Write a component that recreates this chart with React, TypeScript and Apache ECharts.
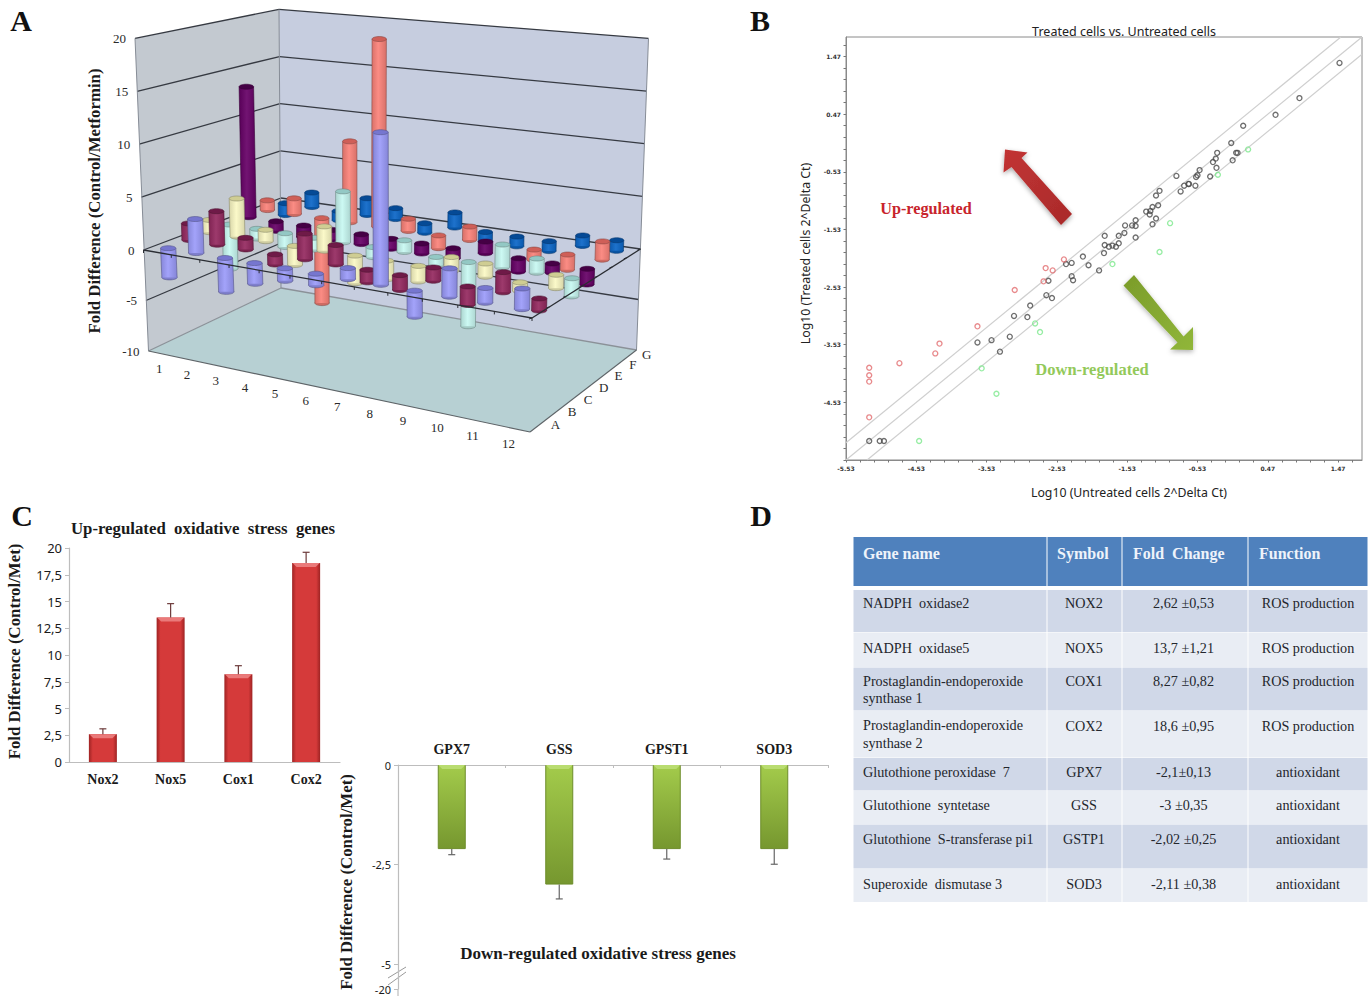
import React, { useEffect, useRef } from "react";
import * as echarts from "echarts";

// ---------- Panel A data (fold difference, rows A..G, columns 1..12)
const rowA = [-2.9, 3.2, -3.3, -2.0, -1.2, -1.1, 1.0, 13.7, -2.4, 2.5, 1.3, 1.8];
const rowB = [1.6, 3.2, 1.1, -1.0, 2.4, 1.8, -1.2, -1.4, 1.2, -1.7, 1.8, -1.1];
const rowC = [1.2, 3.7, 1.1, -1.9, 2.3, -2.7, -1.8, -1.5, 1.3, 1.2, -0.8, 1.2];
const rowD = [-4.6, -1.0, -1.4, -1.2, 4.9, -1.0, 1.1, -0.8, -6.2, 2.1, 1.3, -1.7];
const rowE = [13.2, -1.0, -1.2, -1.0, -1.0, -1.0, -1.0, -1.0, 1.1, -1.3, -0.9, -1.5];
const rowF = [1.0, 1.6, -9.0, 8.1, 18.6, 1.2, -1.3, 1.3, null, -1.0, -1.5, 1.7];
const rowG = [-1.3, 1.5, -1.0, 1.7, 1.1, -1.0, 1.5, -1.0, -1.0, -1.0, 1.0, 1.0];
const rowLetters = ["A", "B", "C", "D", "E", "F", "G"];
const colLabels = ["1", "2", "3", "4", "5", "6", "7", "8", "9", "10", "11", "12"];
const wallTicks = [20, 15, 10, 5, 0, -5, -10];
const rowBody = ["#9b9bfa", "#94295f", "#fbf9c4", "#c8f8f2", "#660066", "#fb8279", "#0a66c8"];
const rowEdge = ["#7676cf", "#6f1a48", "#cfcd93", "#93c8c4", "#450045", "#cf5f58", "#054a96"];

// ---------- Panel B data [untreated, treated]
const redPoints = [[-5.2, -3.93], [-5.2, -4.06], [-5.2, -4.17], [-5.2, -4.79], [-4.77, -3.85], [-4.26, -3.68], [-4.2, -3.51], [-3.66, -3.21], [-3.13, -2.58], [-2.72, -2.43], [-2.69, -2.2], [-2.59, -2.24], [-2.43, -2.05]];
const greenPoints = [[-4.49, -5.2], [-3.39, -4.38], [-3.6, -3.94], [-2.77, -3.31], [-2.84, -3.16], [-1.74, -2.13], [-1.07, -1.92], [-0.92, -1.42], [-0.24, -0.58], [0.19, -0.14]];
const blackPoints = [[-5.2, -5.2], [-5.05, -5.2], [-4.99, -5.2], [-3.66, -3.49], [-3.46, -3.45], [-3.2, -3.39], [-3.34, -3.65], [-3.14, -3.03], [-2.95, -3.05], [-2.91, -2.85], [-2.68, -2.67], [-2.6, -2.72], [-2.65, -2.42], [-2.32, -2.34], [-2.3, -2.41], [-2.4, -2.13], [-2.32, -2.11], [-2.16, -2.0], [-2.08, -2.15], [-1.93, -2.24], [-1.86, -1.94], [-1.85, -1.8], [-1.85, -1.64], [-1.79, -1.83], [-1.74, -1.81], [-1.69, -1.83], [-1.65, -1.77], [-1.65, -1.64], [-1.57, -1.59], [-1.56, -1.46], [-1.46, -1.46], [-1.41, -1.37], [-1.41, -1.47], [-1.41, -1.67], [-1.26, -1.22], [-1.21, -1.27], [-1.2, -1.21], [-1.17, -1.14], [-1.17, -1.44], [-1.12, -1.34], [-1.09, -1.11], [-1.12, -0.94], [-1.07, -0.86], [-0.83, -0.6], [-0.77, -0.87], [-0.72, -0.77], [-0.66, -0.74], [-0.65, -0.74], [-0.56, -0.77], [-0.55, -0.62], [-0.53, -0.59], [-0.5, -0.5], [-0.35, -0.61], [-0.31, -0.36], [-0.27, -0.3], [-0.26, -0.46], [-0.25, -0.2], [-0.05, -0.03], [-0.03, -0.33], [0.02, -0.2], [0.04, -0.2], [0.12, 0.27], [0.58, 0.46], [0.92, 0.75], [1.49, 1.36]];
const centreLine = [[-5.53, -5.53], [1.81, 1.81]];
const upperLine = [[-5.53, -5.23], [1.51, 1.81]];
const lowerLine = [[-5.23, -5.53], [1.81, 1.51]];
const logLabelsX = [-5.53, -4.53, -3.53, -2.53, -1.53, -0.53, 0.47, 1.47];
const logLabelsY = [-4.53, -3.53, -2.53, -1.53, -0.53, 0.47, 1.47];
const logTicks = Array.from({ length: 37 }, (_, i) => +(-5.53 + i * 0.2).toFixed(2));

// ---------- Panel C data
const upGenes = ["Nox2", "Nox5", "Cox1", "Cox2"];
const upValues = [2.6, 13.5, 8.2, 18.6];
const upErrorTops = [3.1, 14.8, 9.0, 19.6];
const downGenes = ["GPX7", "GSS", "GPST1", "SOD3"];
const downValues = [-2.11, -3.0, -2.11, -2.11];
const downErrorEnds = [-2.25, -3.36, -2.36, -2.49];
const downTicks = [0, -2.5, -5, -5.62];

// ---------- Panel D data
const tableHeader = ["Gene name", "Symbol", "Fold  Change", "Function"];
const geneNames = ["NADPH  oxidase2", "NADPH  oxidase5", "Prostaglandin-endoperoxide\nsynthase 1", "Prostaglandin-endoperoxide\nsynthase 2", "Glutothione peroxidase  7", "Glutothione  syntetase", "Glutothione  S-transferase pi1", "Superoxide  dismutase 3"];
const symbols = ["NOX2", "NOX5", "COX1", "COX2", "GPX7", "GSS", "GSTP1", "SOD3"];
const foldChanges = ["2,62 ±0,53", "13,7 ±1,21", "8,27 ±0,82", "18,6 ±0,95", "-2,1±0,13", "-3 ±0,35", "-2,02 ±0,25", "-2,11 ±0,38"];
const functions = ["ROS production", "ROS production", "ROS production", "ROS production", "antioxidant", "antioxidant", "antioxidant", "antioxidant"];

// ---------- layout of the 3D box of panel A
type P = [number, number];
const zeroQuad: P[] = [[143.5, 250], [532, 318], [640.5, 249], [281, 198]];
const floorQuad: P[] = [[148.5, 351], [530, 432], [636.5, 350], [281, 288]];
// pixels per unit above the zero plane at the four vertical edges (order as in the quads)
const riseY = [10.58, 11.6, 10.53, 9.43];
const riseX = [-0.425, 0.2, 0.4, -0.1];

function homography(q: P[], u: number, v: number): P {
  const [[x0, y0], [x1, y1], [x2, y2], [x3, y3]] = q;
  const dx1 = x1 - x2, dx2 = x3 - x2, sx = x0 - x1 + x2 - x3;
  const dy1 = y1 - y2, dy2 = y3 - y2, sy = y0 - y1 + y2 - y3;
  const den = dx1 * dy2 - dx2 * dy1;
  const g = (sx * dy2 - dx2 * sy) / den;
  const h = (dx1 * sy - sx * dy1) / den;
  const a = x1 - x0 + g * x1, b = x3 - x0 + h * x3;
  const d = y1 - y0 + g * y1, e = y3 - y0 + h * y3;
  const w = g * u + h * v + 1;
  return [(a * u + b * v + x0) / w, (d * u + e * v + y0) / w];
}
const bilinear = (c: number[], u: number, v: number) =>
  (1 - v) * ((1 - u) * c[0] + u * c[1]) + v * ((1 - u) * c[3] + u * c[2]);
function box(u: number, v: number, val: number): P {
  const z = homography(zeroQuad, u, v);
  if (val >= 0) return [z[0] + bilinear(riseX, u, v) * val, z[1] - bilinear(riseY, u, v) * val];
  const f = homography(floorQuad, u, v);
  const t = val / -10;
  return [z[0] + (f[0] - z[0]) * t, z[1] + (f[1] - z[1]) * t];
}
const SERIF = "'Liberation Serif', serif";
const line = (a: P, b: P, stroke: string, lineWidth = 1) => ({
  type: "line",
  shape: { x1: a[0], y1: a[1], x2: b[0], y2: b[1] },
  style: { stroke, lineWidth },
});
const hGrad = (edge: string, mid: string) =>
  new echarts.graphic.LinearGradient(0, 0, 1, 0, [
    { offset: 0, color: edge },
    { offset: 0.45, color: mid },
    { offset: 1, color: edge },
  ]);
function shade(hex: string, f: number) {
  const n = parseInt(hex.slice(1), 16);
  const c = [(n >> 16) & 255, (n >> 8) & 255, n & 255].map((x) => Math.round(f < 1 ? x * f : x + (255 - x) * (f - 1)));
  return `rgb(${c[0]},${c[1]},${c[2]})`;
}

function renderWalls() {
  const c = (u: number, v: number, val: number) => box(u, v, val);
  const poly = (pts: P[], fill: string) => ({ type: "polygon", shape: { points: pts }, style: { fill } });
  const children: any[] = [
    poly([c(0, 0, 20), c(0, 1, 20), c(0, 1, -10), c(0, 0, -10)], "#c3c9d0"),
    poly([c(0, 1, 20), c(1, 1, 20), c(1, 1, -10), c(0, 1, -10)], "#c6cddf"),
    poly([c(0, 0, -10), c(1, 0, -10), c(1, 1, -10), c(0, 1, -10)], "#b7d0d3"),
  ];
  wallTicks.forEach((t) => {
    const col = t === -10 ? "#8b9198" : "#363a42";
    children.push(line(c(0, 0, t), c(0, 1, t), col, 1.3));
    children.push(line(c(0, 1, t), c(1, 1, t), col, 1.3));
  });
  children.push(line(c(0, 0, 20), c(0, 0, -10), "#868c96"));
  children.push(line(c(0, 1, 20), c(0, 1, -10), "#868c96"));
  children.push(line(c(1, 1, 20), c(1, 1, -10), "#868c96"));
  children.push(line(c(0, 0, -10), c(1, 0, -10), "#5e6468", 1.1));
  children.push(line(c(1, 0, -10), c(1, 1, -10), "#5e6468", 1.1));
  return { type: "group", children };
}

function renderPlane() {
  const children: any[] = [
    line(box(0, 0, 0), box(1, 0, 0), "#2a2d33", 1.3),
    line(box(1, 0, 0), box(1, 1, 0), "#2a2d33", 1.3),
  ];
  for (let i = 0; i <= 12; i++) {
    const p = box(i / 12, 0, 0);
    children.push(line(p, [p[0], p[1] + 3], "#2a2d33", 1));
  }
  for (let i = 0; i <= 7; i++) {
    const p = box(1, i / 7, 0);
    children.push(line(p, [p[0] - 3, p[1] + 1], "#2a2d33", 1));
  }
  return { type: "group", children };
}

function renderCylinder(_: any, api: any) {
  const col = api.value(0), row = api.value(1), val = api.value(2);
  const u = (col - 0.5) / 12, v = (row + 0.5) / 7;
  const a = box(u, v, 0), b = box(u, v, val);
  const top = a[1] < b[1] ? a : b, bot = a[1] < b[1] ? b : a;
  const rx = 7.7 - v * 0.7, ry = 2.5;
  const body = rowBody[row], edge = rowEdge[row];
  const outline = { stroke: shade(body, 0.55), lineWidth: 0.6 };
  return {
    type: "group",
    children: [
      { type: "ellipse", shape: { cx: bot[0], cy: bot[1], rx, ry }, style: { fill: shade(body, 0.82), ...outline } },
      {
        type: "polygon",
        shape: { points: [[top[0] - rx, top[1]], [top[0] + rx, top[1]], [bot[0] + rx, bot[1]], [bot[0] - rx, bot[1]]] },
        style: { fill: hGrad(shade(body, 0.86), shade(body, 1.08)) },
      },
      { type: "line", shape: { x1: top[0] - rx, y1: top[1], x2: bot[0] - rx, y2: bot[1] }, style: outline },
      { type: "line", shape: { x1: top[0] + rx, y1: top[1], x2: bot[0] + rx, y2: bot[1] }, style: outline },
      { type: "ellipse", shape: { cx: top[0], cy: top[1], rx, ry }, style: { fill: edge, ...outline } },
    ],
  };
}

function renderBoxLabels() {
  const txt = (text: string, x: number, y: number, align: string) => ({
    type: "text",
    style: { text, x, y, align, verticalAlign: "middle", fontSize: 13, fontFamily: SERIF, fill: "#2a2a2a" },
  });
  const children: any[] = [];
  wallTicks.forEach((t) => {
    const p = box(0, 0, t);
    children.push(txt(String(t), p[0] - 9, p[1], "right"));
  });
  colLabels.forEach((l, i) => {
    const p = box((i + 0.5) / 12, 0, -10);
    children.push(txt(l, p[0] - 3, p[1] + 15, "center"));
  });
  rowLetters.forEach((l, i) => {
    const p = box(1, (i + 0.5) / 7, -10);
    children.push(txt(l, p[0] + 17, p[1] - 1, "center"));
  });
  children.push({
    type: "text",
    x: 94,
    y: 201,
    rotation: Math.PI / 2,
    style: { text: "Fold Difference (Control/Metformin)", align: "center", verticalAlign: "middle", fontSize: 16.8, fontWeight: "bold", fontFamily: SERIF, fill: "#1a1a1a" },
  });
  return { type: "group", children };
}

const cylinderSeries = (values: (number | null)[], row: number, z: number, keep = (_: number) => true) => ({
  type: "custom",
  coordinateSystem: "none",
  silent: true,
  z,
  data: values.map((v, i) => (v === null ? null : [i + 1, row, v])).filter((d: any) => d && keep(d[2])),
  renderItem: renderCylinder,
});

// ---------- bars' bevel and error whiskers
const barDecor = (bevel: string, whisker: string) => (_: any, api: any) => {
  const cat = api.value(0), val = api.value(1), end = api.value(2);
  const base = api.coord([cat, api.value(3)]);
  const tip = api.coord([cat, val]);
  const e = api.coord([cat, end]);
  const up = val > 0;
  const yEdge = up ? tip[1] : base[1];
  return {
    type: "group",
    children: [
      { type: "polygon", shape: { points: [[base[0] - 13.5, yEdge], [base[0] + 13.5, yEdge], [base[0] + 9.5, yEdge + 4], [base[0] - 9.5, yEdge + 4]] }, style: { fill: bevel } },
      { type: "line", shape: { x1: tip[0], y1: tip[1], x2: e[0], y2: e[1] }, style: { stroke: whisker, lineWidth: 1.2 } },
      { type: "line", shape: { x1: e[0] - 3.5, y1: e[1], x2: e[0] + 3.5, y2: e[1] }, style: { stroke: whisker, lineWidth: 1.2 } },
    ],
  };
};

// ---------- graphic elements
function tableElements() {
  const colX = [853, 1047, 1122, 1248, 1368];
  const headTop = 537, headBottom = 586;
  const rowTops = [590, 632.5, 667.5, 711, 758, 791, 824.5, 869];
  const rowBottoms = [632, 667, 710.5, 757.5, 790.5, 824, 868.5, 902];
  const rowTextY = [603, 648, 689.5, 734, 772, 805, 839, 884];
  const oneLineY = [603, 648, 681, 725.5, 772, 805, 839, 884];
  const rect = (x: number, y: number, w: number, h: number, fill: string) => ({ type: "rect", shape: { x, y, width: w, height: h }, style: { fill } });
  const text = (t: string, x: number, y: number, align: string, fill = "#23262c", fontWeight = "normal", fontSize = 14.2) => ({
    type: "text",
    x,
    y,
    style: { text: t, align, verticalAlign: "middle", fill, fontWeight, fontSize, lineHeight: 17.5, fontFamily: SERIF },
  });
  const els: any[] = [];
  for (let c = 0; c < 4; c++) {
    els.push(rect(colX[c] + 0.5, headTop, colX[c + 1] - colX[c] - 1, headBottom - headTop, "#4f81bd"));
    rowTops.forEach((t, r) => {
      els.push(rect(colX[c] + 0.5, t, colX[c + 1] - colX[c] - 1, rowBottoms[r] - t, r % 2 === 0 ? "#d0d8e8" : "#e9edf4"));
    });
  }
  const headX = [863, 1057, 1133, 1259];
  tableHeader.forEach((h, i) => els.push(text(h, headX[i], 553, "left", "#eef3fa", "bold", 16)));
  rowTextY.forEach((y, r) => {
    els.push(text(geneNames[r], 863, y, "left"));
    els.push(text(symbols[r], 1084, oneLineY[r], "center"));
    els.push(text(foldChanges[r], 1183.5, oneLineY[r], "center"));
    els.push(text(functions[r], 1308, oneLineY[r], "center"));
  });
  return els;
}

function decorationElements() {
  const letter = (t: string, x: number, y: number) => ({
    type: "text",
    x,
    y,
    style: { text: t, align: "center", verticalAlign: "middle", fontSize: 30, fontWeight: "bold", fontFamily: SERIF, fill: "#111" },
  });
  const free = (t: string, x: number, y: number, fontSize: number, fill: string, fontFamily = SERIF, fontWeight = "bold") => ({
    type: "text",
    x,
    y,
    style: { text: t, align: "center", verticalAlign: "middle", fontSize, fill, fontFamily, fontWeight },
  });
  return [
    letter("A", 21, 20),
    letter("B", 760, 20),
    letter("C", 22, 515),
    letter("D", 761, 515),
    free("Treated cells vs. Untreated cells", 1124, 31, 12.5, "#222", "'Noto Sans', sans-serif", "normal"),
    free("Up-regulated", 926, 209, 16.2, "#c8242c"),
    free("Down-regulated", 1092, 369, 16.5, "#93c95a"),
    free("Up-regulated  oxidative  stress  genes", 203, 528, 16.8, "#1a1a1a"),
    free("Down-regulated oxidative stress genes", 598, 953, 17, "#1a1a1a"),
    {
      type: "polygon",
      z: 5,
      shape: { points: [[1005, 149.5], [1027.5, 152.5], [1021.5, 158], [1072, 214], [1061, 225], [1011.5, 167], [1003.5, 172.5]] },
      style: {
        fill: new echarts.graphic.LinearGradient(0, 0, 1, 1, [{ offset: 0, color: "#c23434" }, { offset: 1, color: "#a92a2a" }]),
        shadowBlur: 5,
        shadowColor: "rgba(0,0,0,0.35)",
        shadowOffsetY: 2,
      },
    },
    {
      type: "polygon",
      z: 5,
      shape: { points: [[1134, 275], [1123.5, 285.5], [1177.5, 342.5], [1170, 349.5], [1193, 350], [1193, 327], [1183.5, 336.5]] },
      style: {
        fill: new echarts.graphic.LinearGradient(0, 0, 1, 1, [{ offset: 0, color: "#7b9c2a" }, { offset: 1, color: "#90b63a" }]),
        shadowBlur: 5,
        shadowColor: "rgba(0,0,0,0.3)",
        shadowOffsetY: 2,
      },
    },
    { type: "line", shape: { x1: 388, y1: 978, x2: 406, y2: 967 }, style: { stroke: "#9a9a9a", lineWidth: 1 } },
    { type: "line", shape: { x1: 388, y1: 985, x2: 406, y2: 972 }, style: { stroke: "#9a9a9a", lineWidth: 1 } },
    { type: "line", shape: { x1: 398, y1: 989, x2: 398, y2: 996 }, style: { stroke: "#bdbdbd", lineWidth: 1.2 } },
    ...tableElements(),
  ];
}

const circleSeries = (data: number[][], color: string) => ({
  type: "scatter",
  xAxisIndex: 2,
  yAxisIndex: 2,
  data,
  symbol: "circle",
  symbolSize: 5,
  silent: true,
  z: 4,
  itemStyle: { color: "rgba(255,255,255,0)", borderColor: color, borderWidth: 1.35 },
});
const guideSeries = (data: number[][]) => ({
  type: "line",
  xAxisIndex: 2,
  yAxisIndex: 2,
  data,
  showSymbol: false,
  silent: true,
  z: 3,
  lineStyle: { color: "#cfcfcf", width: 1.2 },
});

function buildOption(): any {
  const greyAxis = { show: true, lineStyle: { color: "#bdbdbd", width: 1.2 } };
  const logAxis = (labels: number[], name: string, extra: any) => ({
    type: "value",
    gridIndex: 2,
    min: -5.53,
    max: 1.81,
    name,
    nameLocation: "middle",
    nameTextStyle: { fontFamily: "'Noto Sans', sans-serif", fontSize: 12.3, color: "#222", ...extra.nameStyle },
    nameGap: extra.nameGap,
    splitLine: { show: false },
    axisLine: { show: true, onZero: false, lineStyle: { color: "#8a8a8a", width: 1 } },
    axisTick: { show: true, customValues: logTicks, length: 2.5, lineStyle: { color: "#777" } },
    axisLabel: { customValues: labels, fontSize: 6, fontWeight: "bold", fontFamily: "'DejaVu Sans', sans-serif", color: "#333", margin: 5, formatter: (v: number) => v.toFixed(2) },
  });
  return {
    animation: false,
    backgroundColor: "#ffffff",
    grid: [
      { left: 69, right: 1030, top: 548, bottom: 234 },
      { left: 398, right: 542, top: 765, bottom: 7 },
      { left: 846, right: 8, top: 37, bottom: 536, show: true, borderColor: "#8a8a8a", borderWidth: 1, backgroundColor: "#fff" },
    ],
    xAxis: [
      {
        type: "category",
        gridIndex: 0,
        data: upGenes,
        axisLine: greyAxis,
        axisTick: { show: false },
        axisLabel: { fontFamily: SERIF, fontWeight: "bold", fontSize: 14, color: "#1a1a1a", margin: 10 },
      },
      {
        type: "category",
        gridIndex: 1,
        data: downGenes,
        position: "top",
        axisLine: { ...greyAxis, onZero: false },
        axisTick: { show: true, alignWithLabel: false, inside: true, length: 3, lineStyle: { color: "#bdbdbd" } },
        axisLabel: { fontFamily: SERIF, fontWeight: "bold", fontSize: 14, color: "#1a1a1a", margin: 9 },
      },
      logAxis(logLabelsX, "Log10 (Untreated cells 2^Delta Ct)", { nameGap: 26, nameStyle: { padding: [0, 0, 0, 50] } }),
    ],
    yAxis: [
      {
        type: "value",
        gridIndex: 0,
        min: 0,
        max: 20,
        interval: 2.5,
        name: "Fold Difference (Control/Met)",
        nameLocation: "middle",
        nameGap: 46,
        nameTextStyle: { fontFamily: SERIF, fontWeight: "bold", fontSize: 16.8, color: "#1a1a1a", padding: [0, 0, 0, 7] },
        splitLine: { show: false },
        axisLine: greyAxis,
        axisTick: { show: true, length: 4, lineStyle: { color: "#bdbdbd" } },
        axisLabel: { fontFamily: "'Noto Sans', sans-serif", fontSize: 13, color: "#1a1a1a", margin: 7, formatter: (v: number) => String(v).replace(".", ",") },
      },
      {
        type: "value",
        gridIndex: 1,
        min: -5.62,
        max: 0,
        name: "Fold Difference (Control/Met)",
        nameLocation: "middle",
        nameGap: 43,
        nameTextStyle: { fontFamily: SERIF, fontWeight: "bold", fontSize: 16.8, color: "#1a1a1a", padding: [0, 10, 0, 0] },
        splitLine: { show: false },
        axisLine: greyAxis,
        axisTick: { show: true, customValues: downTicks, length: 4, lineStyle: { color: "#bdbdbd" } },
        axisLabel: {
          customValues: downTicks,
          fontFamily: "'Noto Sans', sans-serif",
          fontSize: 11,
          color: "#1a1a1a",
          margin: 7,
          formatter: (v: number) => (v < -5.5 ? "-20" : String(v).replace(".", ",")),
        },
      },
      logAxis(logLabelsY, "Log10 (Treated cells 2^Delta Ct)", { nameGap: 35, nameStyle: { padding: [0, 10, 0, 0] } }),
    ],
    graphic: { elements: decorationElements() },
    series: [
      // panel A
      { type: "custom", coordinateSystem: "none", silent: true, z: 1, data: [[0]], renderItem: renderWalls },
      cylinderSeries(rowG, 6, 2),
      cylinderSeries(rowF, 5, 2),
      cylinderSeries(rowE, 4, 2),
      cylinderSeries(rowD, 3, 2),
      cylinderSeries(rowC, 2, 2),
      cylinderSeries(rowB, 1, 2),
      cylinderSeries(rowA, 0, 2, (v) => v < 5),
      { type: "custom", coordinateSystem: "none", silent: true, z: 3, data: [[0]], renderItem: renderPlane },
      cylinderSeries(rowA, 0, 4, (v) => v >= 5),
      { type: "custom", coordinateSystem: "none", silent: true, z: 5, data: [[0]], renderItem: renderBoxLabels },
      // panel B
      guideSeries(centreLine),
      guideSeries(upperLine),
      guideSeries(lowerLine),
      circleSeries(blackPoints, "#4a4a4a"),
      circleSeries(redPoints, "#e26d6f"),
      circleSeries(greenPoints, "#7ce88c"),
      // panel C, up
      {
        type: "bar",
        xAxisIndex: 0,
        yAxisIndex: 0,
        data: upValues,
        barWidth: 28,
        silent: true,
        itemStyle: {
          color: new echarts.graphic.LinearGradient(0, 0, 1, 0, [
            { offset: 0, color: "#9e2323" },
            { offset: 0.14, color: "#d53a3a" },
            { offset: 0.86, color: "#d53a3a" },
            { offset: 1, color: "#9e2323" },
          ]),
        },
      },
      {
        type: "custom",
        xAxisIndex: 0,
        yAxisIndex: 0,
        silent: true,
        z: 4,
        data: upValues.map((v, i) => [i, v, upErrorTops[i], 0]),
        renderItem: barDecor("#ea7a7a", "#6d3b3b"),
      },
      // panel C, down
      {
        type: "bar",
        xAxisIndex: 1,
        yAxisIndex: 1,
        data: downValues,
        barWidth: 28,
        silent: true,
        itemStyle: {
          borderColor: "#6d8c2a",
          borderWidth: 1,
          color: new echarts.graphic.LinearGradient(0, 0, 0, 1, [
            { offset: 0, color: "#a3cb4b" },
            { offset: 1, color: "#76972f" },
          ]),
        },
      },
      {
        type: "custom",
        xAxisIndex: 1,
        yAxisIndex: 1,
        silent: true,
        z: 4,
        data: downValues.map((v, i) => [i, v, downErrorEnds[i], 0]),
        renderItem: barDecor("#b9dc70", "#666666"),
      },
    ],
  };
}

export default function App() {
  const ref = useRef<HTMLDivElement>(null);
  useEffect(() => {
    document.body.style.margin = "0";
    const chart = echarts.init(ref.current!, null, { renderer: "svg" });
    chart.setOption(buildOption());
    return () => chart.dispose();
  }, []);
  return <div ref={ref} style={{ position: "absolute", left: 0, top: 0, width: 1370, height: 996 }} />;
}
